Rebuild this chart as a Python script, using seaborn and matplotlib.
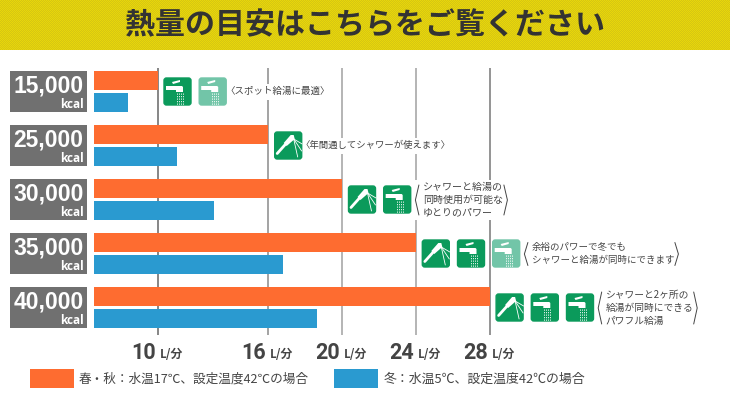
import matplotlib
matplotlib.use("Agg")
import matplotlib.pyplot as plt
from matplotlib.patches import FancyBboxPatch, Rectangle, Polygon
import numpy as np
import pandas as pd
import seaborn as sns

title = "熱量の目安はこちらをご覧ください"
kcal = ["15,000", "25,000", "30,000", "35,000", "40,000"]
spring_lpm = [10, 16, 20, 24, 28]
winter_lpm = [8.4, 11.05, 13.05, 16.8, 18.65]
ticks = [10, 16, 20, 24, 28]
spring_label = "春・秋：水温17℃、設定温度42℃の場合"
winter_label = "冬：水温5℃、設定温度42℃の場合"
# icons per row: s = shower, t = tap, p = pale tap
icons = ["tp", "s", "st", "stp", "stt"]
notes = [
    ["〈スポット給湯に最適〉"],
    ["〈年間通してシャワーが使えます〉"],
    ["シャワーと給湯の", "同時使用が可能な", "ゆとりのパワー"],
    ["余裕のパワーで冬でも", "シャワーと給湯が同時にできます"],
    ["シャワーと2ヶ所の", "給湯が同時にできる", "パワフル給湯"],
]

ORANGE = "#fe6c30"
BLUE = "#2a9ad0"
GREEN = "#0b9a5b"
PALE = "#72c5a8"
GREY = "#707070"
DARK = "#444444"

sns.set_theme(style="white")
plt.rcParams['font.family'] = ['Noto Sans CJK JP', 'DejaVu Sans']

fig = plt.figure(figsize=(7.3, 4), dpi=100)


def px_axes(x0, y0, x1, y1):
    return fig.add_axes([x0 / 730, 1 - y1 / 400, (x1 - x0) / 730, (y1 - y0) / 400])


# chart axes, x in L/min
ax = px_axes(94, 68, 730, 335)
df = pd.DataFrame({
    "kcal": kcal * 2,
    "lpm": spring_lpm + winter_lpm,
    "season": ["spring"] * 5 + ["winter"] * 5,
})
sns.barplot(data=df, y="kcal", x="lpm", hue="season", order=kcal, orient="h",
            palette={"spring": ORANGE, "winter": BLUE}, width=0.815, gap=0.157,
            legend=False, ax=ax, linewidth=0, saturation=1)
px_per_l = 18.45
ax.set_xlim(10 - 63.5 / px_per_l, 10 + (730 - 157.5) / px_per_l)
ax.set_ylim(4.51, -0.435)
ax.set_xticks(ticks)
ax.set_yticks([])
ax.set_xlabel("")
ax.set_ylabel("")
ax.tick_params(axis='x', length=0, labelbottom=False)
ax.set_axisbelow(True)
ax.grid(axis='x', visible=True)
grid_colors = ["#666666", "#8a8a8a", "#a0a0a0", "#a0a0a0", "#777777"]
for line, c in zip(ax.get_xgridlines(), grid_colors):
    line.set_color(c)
    line.set_linewidth(1.1)
sns.despine(ax=ax, left=True, bottom=True, right=True, top=True)
ax.patch.set_alpha(0)

for t in ticks:
    ax.annotate(str(t), xy=(t, 0), xycoords=('data', 'axes fraction'), xytext=(-1.5, -13),
                textcoords='offset points', ha='right', va='center', fontsize=15.5,
                fontweight='bold', family='Roboto', color=DARK)
    ax.annotate("L/分", xy=(t, 0), xycoords=('data', 'axes fraction'), xytext=(1.5, -14),
                textcoords='offset points', ha='left', va='center', fontsize=8.5,
                fontweight='bold', color=DARK)

# overlay in pixel coordinates for header, badges, icons, notes
ov = px_axes(0, 0, 730, 400)
ov.axis('off')
ov.patch.set_alpha(0)

checker = np.indices((50, 730)).sum(axis=0) % 2
ov.imshow(checker, cmap=matplotlib.colors.ListedColormap(["#e8d60a", "#d6c612"]),
          extent=(0, 730, 50, 0), interpolation='nearest', aspect='auto', zorder=1)
ov.set_xlim(0, 730)
ov.set_ylim(400, 0)
ov.text(365.5, 25, title, ha='center', va='center', fontsize=21.6, fontweight='bold',
        color="#333333", zorder=2)


def draw_tap(x, y, color):
    ov.add_patch(FancyBboxPatch((x + 1, y + 1), 27, 27, boxstyle="round,pad=0,rounding_size=2.5",
                                fc=color, ec=color, lw=1, zorder=3))
    ov.add_patch(Polygon([(x + 9, y + 5), (x + 17, y + 3), (x + 17, y + 5), (x + 10, y + 7)],
                         fc="white", ec="none", zorder=4))
    ov.add_patch(Polygon([(x + 3, y + 9), (x + 12, y + 9), (x + 19, y + 9), (x + 20, y + 10),
                          (x + 20, y + 15), (x + 13, y + 15), (x + 13, y + 13), (x + 3, y + 13)],
                         fc="white", ec="none", zorder=4))
    for dx in [14, 16, 18, 20]:
        ov.plot([x + dx, x + dx], [y + 16, y + 28], color="white", lw=0.6, ls=(0, (1.5, 1.5)), zorder=4)


def draw_shower(x, y):
    ov.add_patch(FancyBboxPatch((x + 1, y + 1), 27, 27, boxstyle="round,pad=0,rounding_size=2.5",
                                fc=GREEN, ec=GREEN, lw=1, zorder=3))
    ov.plot([x + 3.5, x + 12], [y + 22.5, y + 13], color="white", lw=2, solid_capstyle='round', zorder=4)
    ov.add_patch(Polygon([(x + 10, y + 12), (x + 17, y + 4), (x + 20, y + 4), (x + 21, y + 8), (x + 13, y + 15)],
                         fc="white", ec="none", zorder=4))
    for ex, ey in [(x + 28.5, y + 13), (x + 28, y + 20), (x + 24, y + 26)]:
        ov.plot([x + 20, ex], [y + 8, ey], color="white", lw=0.6, zorder=4)


note_fonts = [6.8, 6.75, 7.2, 6.8, 7.0]
bracket_heights = [0, 0, 30, 23, 32]
text_widths = [0, 0, 79, 141, 86]

for i, label in enumerate(kcal):
    top = 71 + i * 54
    ov.add_patch(Rectangle((10, top), 77, 41, fc=GREY, ec="none", zorder=3))
    ov.text(48.5, top + 15, label, ha='center', va='center', fontsize=16.5, fontweight='bold',
            family='Liberation Sans', color="white", zorder=4)
    ov.text(84, top + 33, "kcal", ha='right', va='center', fontsize=8.5, fontweight='bold',
            family='Open Sans', color="white", zorder=4)

    # icons start just after the end of the spring bar
    end_px = 157.5 + (spring_lpm[i] - 10) * px_per_l
    for j, kind in enumerate(icons[i]):
        x = end_px + 5.5 + j * 35.2
        y = top + 6
        if kind == "s":
            draw_shower(x, y)
        else:
            draw_tap(x, y, GREEN if kind == "t" else PALE)

    lines = notes[i]
    cy = top + 21
    note_x = end_px + 5.5 + len(icons[i]) * 35.2 + 1
    if len(lines) == 1:
        # the full width bracket has blank space on its left, so the text starts further left
        txt = ov.text(note_x - 9, cy - 0.5, lines[0], ha='left', va='center',
                      fontsize=note_fonts[i], color=DARK, zorder=4)
        bb = txt.get_window_extent(fig.canvas.get_renderer())
        ov.add_patch(Rectangle((note_x - 5, cy - 8), bb.width - 1, 16, fc="white", ec="none", zorder=2.5))
    else:
        step = 12.8
        text_x = note_x + 4
        w = text_widths[i]
        h = bracket_heights[i]
        ov.add_patch(Rectangle((note_x - 5, cy - 20), w + 18, 40, fc="white", ec="none", zorder=2.5))
        for k, line in enumerate(lines):
            ov.text(text_x, cy + (k - (len(lines) - 1) / 2) * step, line, ha='left', va='center',
                    fontsize=note_fonts[i], color=DARK, zorder=4)
        rb = text_x + w + 2
        ov.plot([note_x, note_x - 3.5, note_x], [cy - h / 2, cy, cy + h / 2], color=DARK, lw=0.7, zorder=4)
        ov.plot([rb, rb + 3.5, rb], [cy - h / 2, cy, cy + h / 2], color=DARK, lw=0.7, zorder=4)

# legend
ov.add_patch(Rectangle((30, 369), 43.5, 19, fc=ORANGE, ec="none", zorder=3))
ov.text(79, 379, spring_label, ha='left', va='center', fontsize=9.1, color=DARK, zorder=4)
ov.add_patch(Rectangle((334, 369), 44, 19, fc=BLUE, ec="none", zorder=3))
ov.text(384, 379, winter_label, ha='left', va='center', fontsize=9.3, color=DARK, zorder=4)

fig.savefig("out.png", dpi=100)
